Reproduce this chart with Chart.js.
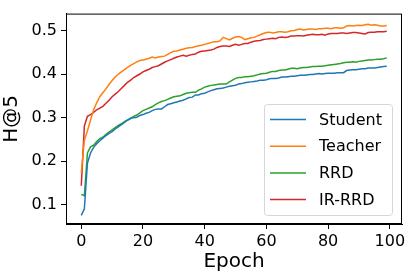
<!DOCTYPE html>
<html>
<head>
<meta charset="utf-8">
<script src="https://cdn.jsdelivr.net/npm/chart.js@4"></script>
<style>
  html, body { margin: 0; padding: 0; background: #fff; }
  #wrap { width: 410px; height: 276px; }
</style>
</head>
<body>
<div id="wrap"><canvas id="lineChart" width="410" height="276"></canvas></div>
<script>
// epochs 0..99
var epochs = [
  0, 1, 2, 3, 4, 5, 6, 7, 8, 9, 10, 11, 12, 13, 14, 15, 16, 17, 18, 19,
  20, 21, 22, 23, 24, 25, 26, 27, 28, 29, 30, 31, 32, 33, 34, 35, 36, 37, 38, 39,
  40, 41, 42, 43, 44, 45, 46, 47, 48, 49, 50, 51, 52, 53, 54, 55, 56, 57, 58, 59,
  60, 61, 62, 63, 64, 65, 66, 67, 68, 69, 70, 71, 72, 73, 74, 75, 76, 77, 78, 79,
  80, 81, 82, 83, 84, 85, 86, 87, 88, 89, 90, 91, 92, 93, 94, 95, 96, 97, 98, 99,
];

var student = [
  0.076, 0.091, 0.196, 0.219, 0.232, 0.240, 0.247, 0.253, 0.259, 0.264,
  0.268, 0.274, 0.279, 0.284, 0.289, 0.294, 0.298, 0.300, 0.301, 0.305,
  0.307, 0.310, 0.312, 0.316, 0.319, 0.320, 0.320, 0.325, 0.330, 0.332,
  0.334, 0.336, 0.338, 0.340, 0.343, 0.346, 0.347, 0.352, 0.352, 0.355,
  0.356, 0.359, 0.362, 0.364, 0.366, 0.367, 0.368, 0.370, 0.372, 0.373,
  0.374, 0.377, 0.378, 0.380, 0.381, 0.382, 0.383, 0.384, 0.386, 0.386,
  0.387, 0.389, 0.390, 0.390, 0.391, 0.393, 0.393, 0.394, 0.395, 0.395,
  0.396, 0.397, 0.397, 0.398, 0.399, 0.399, 0.400, 0.401, 0.400, 0.401,
  0.402, 0.402, 0.402, 0.403, 0.403, 0.403, 0.408, 0.409, 0.410, 0.410,
  0.411, 0.412, 0.412, 0.414, 0.414, 0.414, 0.415, 0.416, 0.417, 0.418,
];

var teacher = [
  0.173, 0.248, 0.270, 0.294, 0.318, 0.334, 0.348, 0.357, 0.366, 0.376,
  0.385, 0.393, 0.400, 0.405, 0.410, 0.415, 0.420, 0.424, 0.428, 0.431,
  0.432, 0.434, 0.436, 0.439, 0.437, 0.439, 0.440, 0.441, 0.445, 0.449,
  0.452, 0.453, 0.455, 0.457, 0.459, 0.460, 0.461, 0.463, 0.465, 0.466,
  0.468, 0.470, 0.472, 0.474, 0.474, 0.476, 0.484, 0.481, 0.478, 0.482,
  0.485, 0.486, 0.484, 0.479, 0.481, 0.483, 0.484, 0.487, 0.490, 0.493,
  0.495, 0.496, 0.494, 0.495, 0.497, 0.497, 0.496, 0.497, 0.499, 0.500,
  0.502, 0.503, 0.501, 0.502, 0.503, 0.503, 0.502, 0.504, 0.504, 0.505,
  0.505, 0.504, 0.506, 0.506, 0.505, 0.506, 0.510, 0.511, 0.510, 0.511,
  0.512, 0.511, 0.513, 0.514, 0.512, 0.513, 0.512, 0.510, 0.510, 0.511,
];

var rrd = [
  0.124, 0.121, 0.219, 0.233, 0.237, 0.245, 0.252, 0.255, 0.262, 0.267,
  0.272, 0.277, 0.282, 0.286, 0.291, 0.295, 0.299, 0.303, 0.306, 0.311,
  0.316, 0.319, 0.322, 0.325, 0.330, 0.334, 0.337, 0.339, 0.342, 0.345,
  0.348, 0.349, 0.350, 0.353, 0.356, 0.357, 0.358, 0.358, 0.363, 0.366,
  0.370, 0.372, 0.374, 0.375, 0.376, 0.377, 0.377, 0.377, 0.382, 0.386,
  0.390, 0.392, 0.392, 0.394, 0.394, 0.395, 0.396, 0.398, 0.400, 0.401,
  0.402, 0.404, 0.406, 0.406, 0.408, 0.409, 0.409, 0.411, 0.413, 0.413,
  0.412, 0.414, 0.415, 0.415, 0.416, 0.417, 0.417, 0.418, 0.418, 0.419,
  0.420, 0.421, 0.422, 0.423, 0.424, 0.426, 0.427, 0.427, 0.428, 0.427,
  0.429, 0.430, 0.431, 0.432, 0.432, 0.433, 0.434, 0.434, 0.435, 0.437,
];

var irRrd = [
  0.144, 0.281, 0.303, 0.307, 0.312, 0.318, 0.322, 0.326, 0.333, 0.340,
  0.348, 0.354, 0.360, 0.367, 0.374, 0.381, 0.386, 0.392, 0.396, 0.400,
  0.405, 0.408, 0.411, 0.415, 0.417, 0.419, 0.423, 0.427, 0.430, 0.433,
  0.436, 0.439, 0.441, 0.443, 0.441, 0.443, 0.445, 0.446, 0.450, 0.452,
  0.453, 0.454, 0.455, 0.457, 0.461, 0.463, 0.464, 0.464, 0.463, 0.466,
  0.468, 0.466, 0.468, 0.470, 0.470, 0.473, 0.475, 0.476, 0.477, 0.479,
  0.480, 0.481, 0.482, 0.481, 0.484, 0.485, 0.484, 0.485, 0.487, 0.487,
  0.488, 0.488, 0.487, 0.489, 0.490, 0.491, 0.490, 0.490, 0.491, 0.489,
  0.492, 0.493, 0.493, 0.493, 0.494, 0.494, 0.493, 0.494, 0.495, 0.495,
  0.494, 0.493, 0.492, 0.495, 0.496, 0.496, 0.497, 0.497, 0.497, 0.498,
];

var seriesLabels = ['Student', 'Teacher', 'RRD', 'IR-RRD'];
var xTicks = [0, 20, 40, 60, 80, 100];
var yTicks = [0.1, 0.2, 0.3, 0.4, 0.5];

var FONT = 'DejaVu Sans';

function toPoints(values) {
  return values.map(function (v, i) { return { x : epochs[i], y : v }; });
}

function lineSet(label, values, color) {
  return {
    label : label,
    data : toPoints(values),
    borderColor : color,
    backgroundColor : color,
    borderWidth : 1.5,
    pointRadius : 0,
    tension : 0,
    fill : false,
  };
}

// full box around the plot + matplotlib-like legend in the lower right
var framePlugin = {
  id : 'frame',
  afterDraw : function (chart) {
    var ctx = chart.ctx;
    var a = chart.chartArea;
    ctx.save();
    ctx.strokeStyle = '#000';
    ctx.lineWidth = 1;
    ctx.strokeRect(a.left + 0.5, a.top + 0.5, a.right - a.left - 1, a.bottom - a.top - 1);

    // legend box
    var bx = 264.5, by = 104.5, bw = 128, bh = 111, r = 3;
    ctx.fillStyle = 'rgba(255,255,255,0.8)';
    ctx.strokeStyle = '#d6d6d6';
    ctx.beginPath();
    ctx.moveTo(bx + r, by);
    ctx.lineTo(bx + bw - r, by);
    ctx.quadraticCurveTo(bx + bw, by, bx + bw, by + r);
    ctx.lineTo(bx + bw, by + bh - r);
    ctx.quadraticCurveTo(bx + bw, by + bh, bx + bw - r, by + bh);
    ctx.lineTo(bx + r, by + bh);
    ctx.quadraticCurveTo(bx, by + bh, bx, by + bh - r);
    ctx.lineTo(bx, by + r);
    ctx.quadraticCurveTo(bx, by, bx + r, by);
    ctx.closePath();
    ctx.fill();
    ctx.stroke();

    ctx.font = '16px "' + FONT + '"';
    ctx.textBaseline = 'middle';
    ctx.textAlign = 'left';
    chart.data.datasets.forEach(function (ds, i) {
      var y = 119.5 + i * 26.7;
      ctx.strokeStyle = ds.borderColor;
      ctx.lineWidth = 1.5;
      ctx.beginPath();
      ctx.moveTo(270, y);
      ctx.lineTo(306, y);
      ctx.stroke();
      ctx.fillStyle = '#000';
      ctx.fillText(ds.label, 319, y + 1);
    });
    ctx.restore();
  },
};

var ctx = document.getElementById('lineChart').getContext('2d');

new Chart(ctx, {
  type : 'line',
  data : {
    datasets : [
      lineSet(seriesLabels[0], student, '#1f77b4'),
      lineSet(seriesLabels[1], teacher, '#ff7f0e'),
      lineSet(seriesLabels[2], rrd, '#2ca02c'),
      lineSet(seriesLabels[3], irRrd, '#d62728'),
    ],
  },
  options : {
    responsive : false,
    animation : false,
    layout : { padding : { top : 6, right : 8, left : 0, bottom : 0 } },
    plugins : {
      legend : { display : false },
      tooltip : { enabled : false },
    },
    scales : {
      x : {
        type : 'linear',
        min : -4.95,
        max : 103.95,
        afterBuildTicks : function (scale) {
          scale.ticks = xTicks.map(function (v) { return { value : v }; });
        },
        afterFit : function (scale) { scale.height = 52; },
        grid : {
          drawOnChartArea : false,
          drawTicks : true,
          tickLength : 5,
          color : '#000',
        },
        border : { display : true, color : '#000', width : 1 },
        ticks : {
          color : '#000',
          padding : 3,
          maxRotation : 0,
          font : { family : FONT, size : 16 },
          callback : function (v) { return String(v); },
        },
        title : {
          display : true,
          text : 'Epoch',
          color : '#000',
          font : { family : FONT, size : 20 },
          padding : { top : 0, bottom : 2 },
        },
      },
      y : {
        type : 'linear',
        min : 0.0562,
        max : 0.5385,
        afterBuildTicks : function (scale) {
          scale.ticks = yTicks.map(function (v) { return { value : v }; });
        },
        afterFit : function (scale) { scale.width = 66; },
        grid : {
          drawOnChartArea : false,
          drawTicks : true,
          tickLength : 5,
          color : '#000',
        },
        border : { display : true, color : '#000', width : 1 },
        ticks : {
          color : '#000',
          padding : 4,
          font : { family : FONT, size : 16 },
          callback : function (v) { return v.toFixed(1); },
        },
        title : {
          display : true,
          text : 'H@5',
          color : '#000',
          font : { family : FONT, size : 20 },
          padding : { top : 0, bottom : 4 },
        },
      },
    },
  },
  plugins : [framePlugin],
});
</script>
</body>
</html>
